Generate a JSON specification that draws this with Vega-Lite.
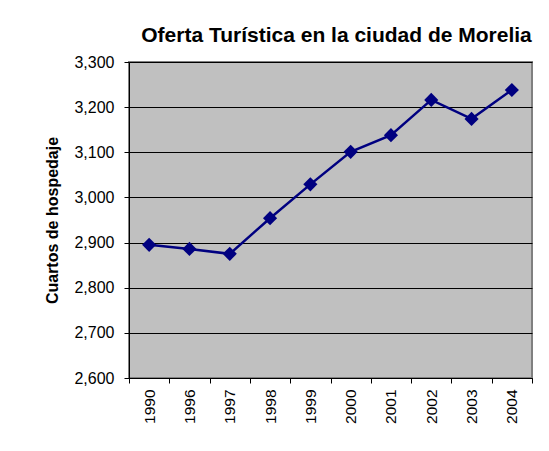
{
  "$schema": "https://vega.github.io/schema/vega-lite/v6.json",
  "width": 403,
  "height": 316,
  "autosize": {"type": "none"},
  "padding": {"left": 129, "top": 62, "right": 17, "bottom": 73},
  "background": "white",
  "title": {
    "text": "Oferta Turística en la ciudad de Morelia",
    "font": "Liberation Sans",
    "fontSize": 21,
    "fontWeight": "bold",
    "color": "black",
    "anchor": "middle",
    "baseline": "alphabetic",
    "dx": 6,
    "offset": -9
  },
  "config": {
    "view": {"fill": "#C0C0C0", "stroke": "#808080", "strokeWidth": 2},
    "axis": {
      "labelFont": "Liberation Sans",
      "titleFont": "Liberation Sans",
      "labelColor": "black",
      "titleColor": "black",
      "domainColor": "black",
      "tickColor": "black",
      "tickSize": 5
    }
  },
  "data": {
    "values": [
      {"year": "1990", "rooms": 2895},
      {"year": "1996", "rooms": 2886},
      {"year": "1997", "rooms": 2875},
      {"year": "1998", "rooms": 2954},
      {"year": "1999", "rooms": 3029},
      {"year": "2000", "rooms": 3101},
      {"year": "2001", "rooms": 3138},
      {"year": "2002", "rooms": 3216},
      {"year": "2003", "rooms": 3174},
      {"year": "2004", "rooms": 3238}
    ]
  },
  "encoding": {
    "x": {
      "field": "year",
      "type": "ordinal",
      "scale": {"paddingInner": 0, "paddingOuter": 0},
      "axis": {
        "title": null,
        "labelAngle": -90,
        "labelFontSize": 15.5,
        "labelPadding": 6,
        "tickBand": "extent",
        "grid": false
      }
    },
    "y": {
      "field": "rooms",
      "type": "quantitative",
      "scale": {"domain": [2600, 3300], "nice": false, "zero": false},
      "axis": {
        "title": "Cuartos de hospedaje",
        "titleFontSize": 16,
        "titleFontWeight": "bold",
        "titlePadding": 13,
        "labelFontSize": 16,
        "labelPadding": 10,
        "labelOverlap": false,
        "labelFlush": false,
        "labelBound": false,
        "values": [2600, 2700, 2800, 2900, 3000, 3100, 3200, 3300],
        "format": ",d",
        "grid": true,
        "gridColor": "black",
        "gridOpacity": 1,
        "gridWidth": 1
      }
    }
  },
  "layer": [
    {"mark": {"type": "line", "color": "#000080", "strokeWidth": 2.5}},
    {"mark": {"type": "point", "shape": "diamond", "filled": true, "color": "#000080", "opacity": 1, "size": 200}}
  ]
}
